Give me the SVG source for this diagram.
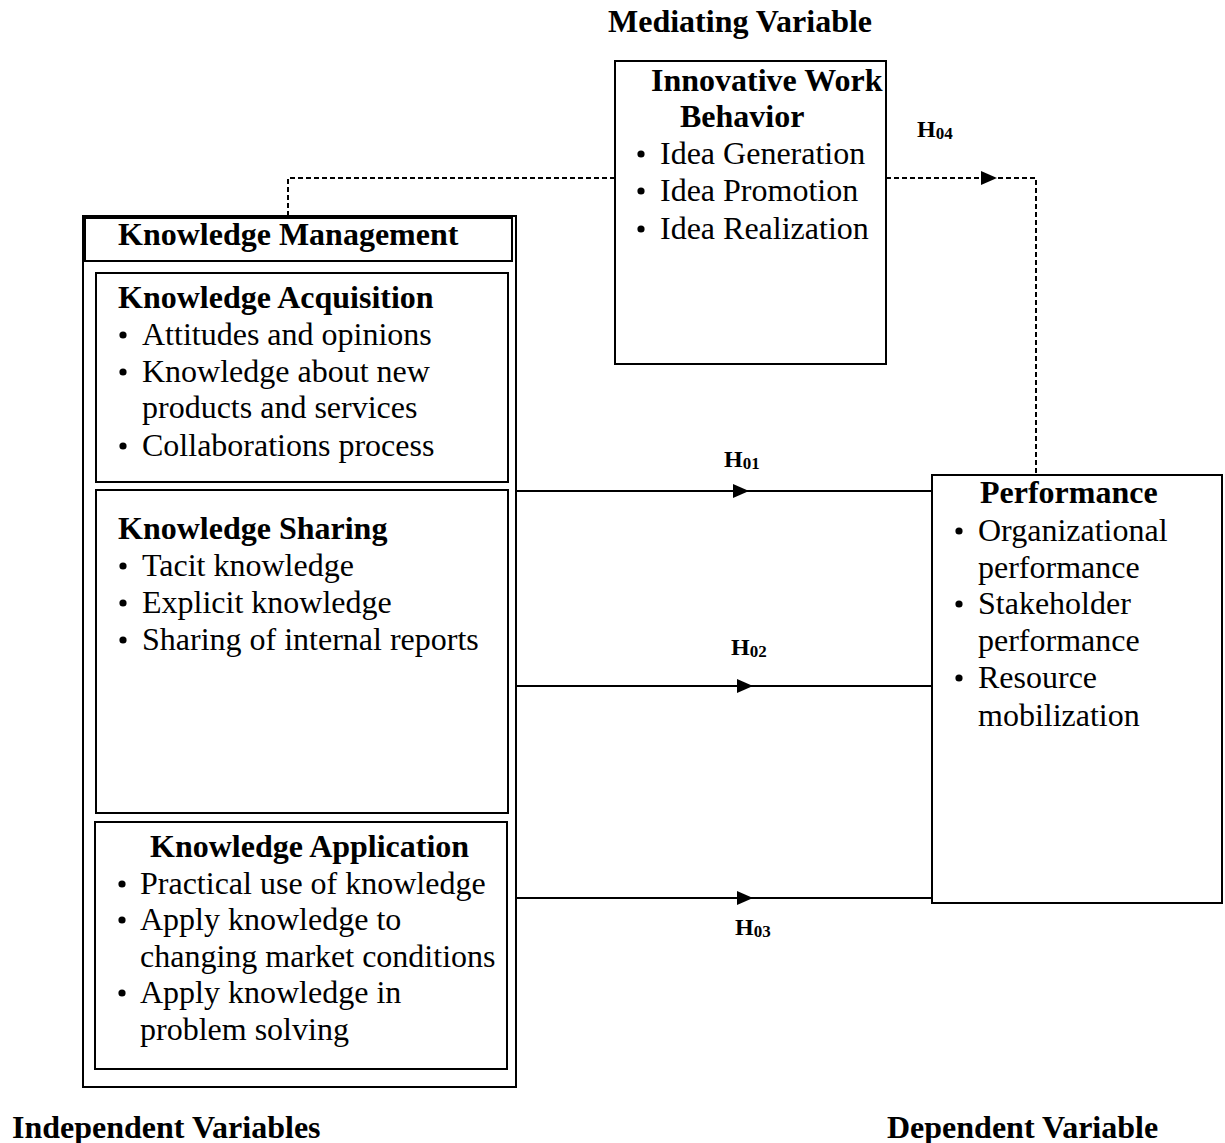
<svg xmlns="http://www.w3.org/2000/svg" width="1225" height="1143" viewBox="0 0 1225 1143">
<style>
text{font-family:"Liberation Serif","Times New Roman",serif;fill:#000}
.b{font-weight:bold;font-size:32px}
.t{font-size:32px}
.h{font-weight:bold;font-size:24px}
.sub{font-size:17px}
.box{fill:#fff;stroke:#000;stroke-width:2}
.solid{stroke:#000;stroke-width:2;fill:none}
.dash{stroke:#000;stroke-width:2;fill:none;stroke-dasharray:5 3}
.dot{fill:#000}
</style>
<defs>
<marker id="tri" markerWidth="16" markerHeight="14" refX="8" refY="7" orient="auto" markerUnits="userSpaceOnUse">
<path d="M0,0 L16,7 L0,14 Z" fill="#000"/>
</marker>
</defs>
<rect width="1225" height="1143" fill="#fff"/>

<text class="b" x="608" y="32">Mediating Variable</text>
<text class="b" x="12" y="1138">Independent Variables</text>
<text class="b" x="887" y="1138">Dependent Variable</text>

<g id="connectors">
<path class="dash" d="M288,216 V178 H615"/>
<path class="dash" d="M886,178 H1036 V474"/>
<path class="dash" d="M886,178 H989" marker-end="url(#tri)"/>
<path class="solid" d="M517,491 H931"/>
<path class="solid" d="M517,491 H741" marker-end="url(#tri)"/>
<path class="solid" d="M517,686 H931"/>
<path class="solid" d="M517,686 H745" marker-end="url(#tri)"/>
<path class="solid" d="M517,898 H931"/>
<path class="solid" d="M517,898 H745" marker-end="url(#tri)"/>
<text class="h" x="724" y="467">H<tspan class="sub" dy="2">01</tspan></text>
<text class="h" x="731" y="655">H<tspan class="sub" dy="2">02</tspan></text>
<text class="h" x="735" y="935">H<tspan class="sub" dy="2">03</tspan></text>
<text class="h" x="917" y="137">H<tspan class="sub" dy="2">04</tspan></text>
</g>

<g id="knowledge-management">
<rect class="box" x="83" y="216" width="433" height="871"/>
<rect class="box" x="85" y="218" width="427" height="43"/>
<text class="b" x="118" y="245">Knowledge Management</text>
</g>

<g id="knowledge-acquisition">
<rect class="box" x="96" y="273" width="412" height="209"/>
<text class="b" x="118" y="308">Knowledge Acquisition</text>
<circle class="dot" cx="123" cy="335" r="3.6"/><text class="t" x="142" y="345">Attitudes and opinions</text>
<circle class="dot" cx="123" cy="372" r="3.6"/><text class="t" x="142" y="382">Knowledge about new</text>
<text class="t" x="142" y="418">products and services</text>
<circle class="dot" cx="123" cy="446" r="3.6"/><text class="t" x="142" y="456">Collaborations process</text>
</g>

<g id="knowledge-sharing">
<rect class="box" x="96" y="490" width="412" height="323"/>
<text class="b" x="118" y="539">Knowledge Sharing</text>
<circle class="dot" cx="123" cy="566" r="3.6"/><text class="t" x="142" y="576">Tacit knowledge</text>
<circle class="dot" cx="123" cy="603" r="3.6"/><text class="t" x="142" y="613">Explicit knowledge</text>
<circle class="dot" cx="123" cy="640" r="3.6"/><text class="t" x="142" y="650">Sharing of internal reports</text>
</g>

<g id="knowledge-application">
<rect class="box" x="95" y="822" width="412" height="247"/>
<text class="b" x="150" y="857">Knowledge Application</text>
<circle class="dot" cx="122" cy="884" r="3.6"/><text class="t" x="140" y="894">Practical use of knowledge</text>
<circle class="dot" cx="122" cy="920" r="3.6"/><text class="t" x="140" y="930">Apply knowledge to</text>
<text class="t" x="140" y="967">changing market conditions</text>
<circle class="dot" cx="122" cy="993" r="3.6"/><text class="t" x="140" y="1003">Apply knowledge in</text>
<text class="t" x="140" y="1040">problem solving</text>
</g>

<g id="innovative-work-behavior">
<rect class="box" x="615" y="61" width="271" height="303"/>
<text class="b" x="651" y="91">Innovative Work</text>
<text class="b" x="680" y="127">Behavior</text>
<circle class="dot" cx="641" cy="154" r="3.6"/><text class="t" x="660" y="164">Idea Generation</text>
<circle class="dot" cx="641" cy="191" r="3.6"/><text class="t" x="660" y="201">Idea Promotion</text>
<circle class="dot" cx="641" cy="229" r="3.6"/><text class="t" x="660" y="239">Idea Realization</text>
</g>

<g id="performance">
<rect class="box" x="932" y="475" width="290" height="428"/>
<text class="b" x="980" y="503">Performance</text>
<circle class="dot" cx="959" cy="531" r="3.6"/><text class="t" x="978" y="541">Organizational</text>
<text class="t" x="978" y="578">performance</text>
<circle class="dot" cx="959" cy="604" r="3.6"/><text class="t" x="978" y="614">Stakeholder</text>
<text class="t" x="978" y="651">performance</text>
<circle class="dot" cx="959" cy="678" r="3.6"/><text class="t" x="978" y="688">Resource</text>
<text class="t" x="978" y="726">mobilization</text>
</g>
</svg>
